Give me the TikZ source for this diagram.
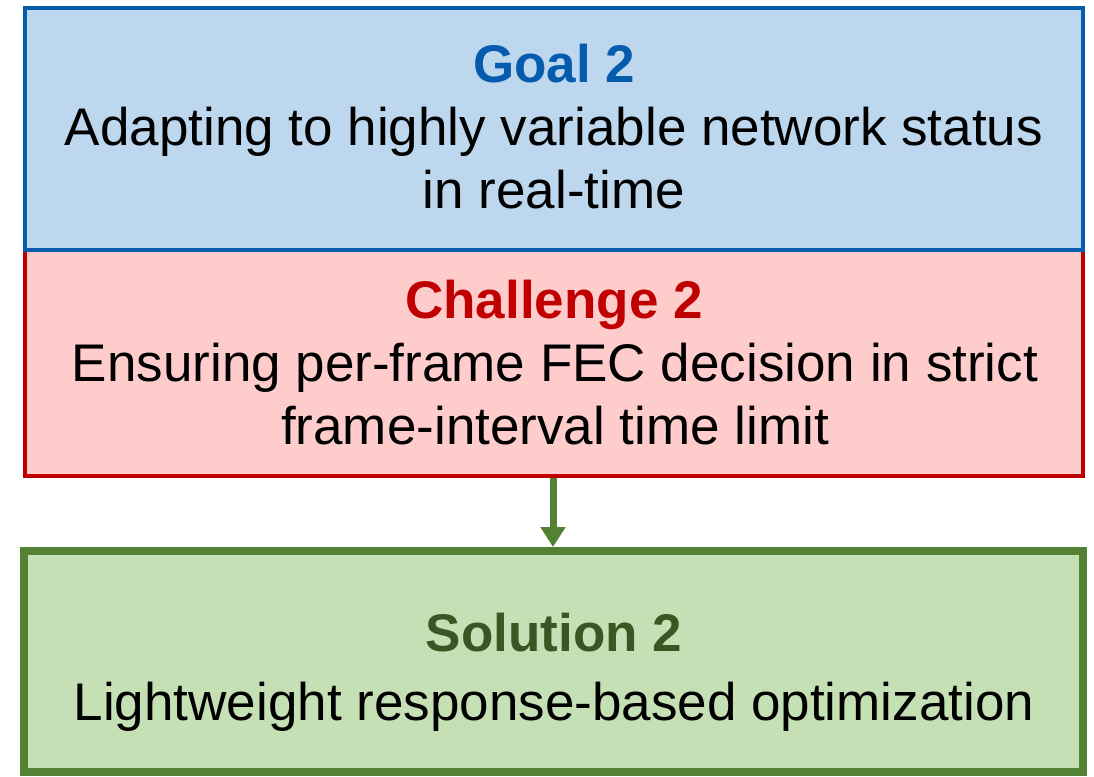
\documentclass[tikz,border=0pt]{standalone}
\usepackage{fontspec}
\setmainfont{Liberation Sans}
\usetikzlibrary{arrows.meta}

\definecolor{goalfill}{RGB}{189,215,238}
\definecolor{goalline}{RGB}{6,92,172}
\definecolor{chalfill}{RGB}{255,204,204}
\definecolor{challine}{RGB}{192,0,0}
\definecolor{solfill}{RGB}{197,224,180}
\definecolor{solline}{RGB}{84,130,53}
\definecolor{soltext}{RGB}{56,87,35}

\tikzset{
  panel/.style={rectangle, inner sep=0pt, minimum width=1058pt},
  txt/.style={anchor=base, inner sep=0pt, font=\fontsize{53}{60}\selectfont},
  head/.style={txt, font=\fontsize{53}{60}\selectfont\bfseries},
}

\begin{document}
\begin{tikzpicture}[x=1pt,y=-1pt]
  \useasboundingbox (0,0) rectangle (1094,776);

  % three stacked panels (challenge first so the goal border sits on top)
  \node[panel, draw=challine, fill=chalfill, line width=4pt, minimum height=226pt]
    (chal) at (554,363) {};
  \node[panel, draw=goalline, fill=goalfill, line width=4pt, minimum height=242pt]
    (goal) at (554,129) {};
  \node[panel, draw=solline, fill=solfill, line width=8pt, minimum width=1059pt, minimum height=221pt]
    (sol) at (553.5,661.5) {};

  % goal text
  \node[head, text=goalline] (goalT) at (554,82) {Goal 2};
  \node[txt] (goalA) at (554,145) {Adapting to highly variable network status};
  \node[txt] (goalB) at (554,208) {in real-time};

  % challenge text
  \node[head, text=challine] (chalT) at (554,318) {Challenge 2};
  \node[txt] (chalA) at (555,381) {Ensuring per-frame FEC decision in strict};
  \node[txt] (chalB) at (555,444) {frame-interval time limit};

  % solution text
  \node[head, text=soltext] (solT) at (554,651) {Solution 2};
  \node[txt] (solA) at (554,720) {Lightweight response-based optimization};

  % connector from challenge to solution
  \draw[solline, line width=7pt, -{Triangle[width=24pt,length=20pt]}]
    (chal.south -| 553,0) -- (sol.north -| 553,0);
\end{tikzpicture}
\end{document}
